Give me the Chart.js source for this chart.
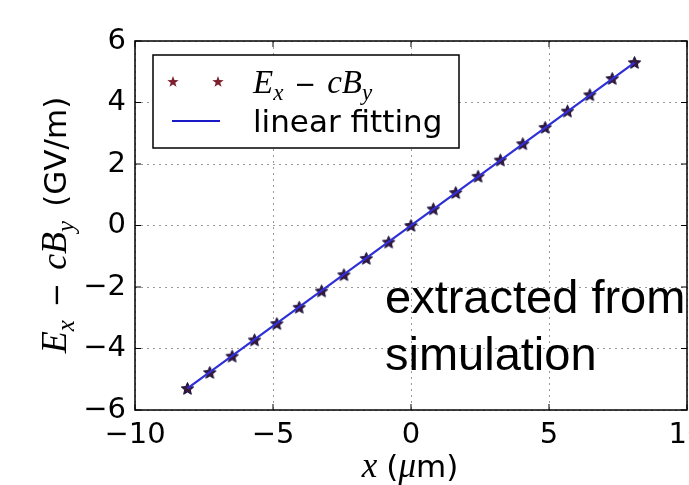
<!DOCTYPE html>
<html>
<head>
<meta charset="utf-8">
<script src="https://cdn.jsdelivr.net/npm/chart.js@4"></script>
<style>
    html, body { margin: 0; padding: 0; background: #fff; }
    #wrap { position: relative; width: 689px; height: 485px; overflow: hidden; }
    #grafica { position: absolute; left: 0; top: 0; }
</style>
</head>
<body>
<div id="wrap"><canvas id="grafica" width="720" height="485"></canvas></div>
<script>
// datos
var posX = [-8.1, -7.29, -6.48, -5.67, -4.86, -4.05, -3.24, -2.43, -1.62, -0.81, 0,
             0.81, 1.62, 2.43, 3.24, 4.05, 4.86, 5.67, 6.48, 7.29, 8.1];
var campo = [-5.3, -4.78, -4.25, -3.72, -3.19, -2.66, -2.13, -1.6, -1.07, -0.54, 0,
             0.54, 1.07, 1.6, 2.13, 2.66, 3.19, 3.72, 4.25, 4.78, 5.3];
var ajusteX = [-8.1, 8.1];
var ajusteY = [-5.3, 5.3];
var ticksX = [-10, -5, 0, 5, 10];
var ticksY = [-6, -4, -2, 0, 2, 4, 6];

var SANS = '"DejaVu Sans", sans-serif';
var SERIF = '"Liberation Serif", "DejaVu Serif", serif';

function estrella(ctx, cx, cy, rOut, rIn) {
    ctx.beginPath();
    for (var i = 0; i < 10; i++) {
        var r = i % 2 === 0 ? rOut : rIn;
        var a = -Math.PI / 2 + i * Math.PI / 5;
        var px = cx + Math.cos(a) * r;
        var py = cy + Math.sin(a) * r;
        if (i === 0) ctx.moveTo(px, py); else ctx.lineTo(px, py);
    }
    ctx.closePath();
}

function imagenEstrella(size, fill, stroke) {
    var c = document.createElement('canvas');
    c.width = size; c.height = size;
    var g = c.getContext('2d');
    estrella(g, size / 2, size / 2 + 0.5, size / 2 - 1, size / 5);
    g.fillStyle = fill;
    g.fill();
    g.strokeStyle = stroke;
    g.lineWidth = 1;
    g.stroke();
    return c;
}

var puntoEstrella = imagenEstrella(15, '#3c1838', '#161040');

function menos(v) { return v < 0 ? '\u2212' + Math.abs(v) : String(v); }

// texto con partes de distinto estilo; gap = espacio extra antes de la parte
function anchoMixto(ctx, partes) {
    var total = 0;
    partes.forEach(function(p) { ctx.font = p.f; total += (p.gap || 0) + ctx.measureText(p.t).width; });
    return total;
}
function textoMixto(ctx, partes, x, y) {
    var cx = x - anchoMixto(ctx, partes) / 2;
    partes.forEach(function(p) {
        cx += p.gap || 0;
        ctx.font = p.f;
        ctx.fillText(p.t, cx, y + (p.dy || 0));
        cx += ctx.measureText(p.t).width;
    });
}

function partesCampo(m, s, gap) {
    return [
        { t: 'E', f: 'italic ' + m + 'px ' + SERIF },
        { t: 'x', f: 'italic ' + s + 'px ' + SERIF, dy: Math.round(s * 0.3) },
        { t: '\u2212', f: Math.round(m * 0.8) + 'px ' + SANS, gap: gap },
        { t: 'cB', f: 'italic ' + m + 'px ' + SERIF, gap: gap },
        { t: 'y', f: 'italic ' + s + 'px ' + SERIF, dy: Math.round(s * 0.3) }
    ];
}

var partesLeyenda = partesCampo(33, 23, 11);
var partesY = partesCampo(36, 25, 13).concat([{ t: '(GV/m)', f: '31px ' + SANS, gap: 14 }]);
var partesX = [
    { t: 'x', f: 'italic 35px ' + SERIF },
    { t: '(', f: '31px ' + SANS, gap: 9 },
    { t: '\u03bc', f: 'italic 35px ' + SERIF },
    { t: 'm)', f: '31px ' + SANS }
];

var decoracion = {
    id: 'decoracion',
    afterDraw: function(chart) {
        var ctx = chart.ctx;
        var a = chart.chartArea;
        var sx = chart.scales.x, sy = chart.scales.y;
        ctx.save();
        // marco
        ctx.strokeStyle = '#000';
        ctx.lineWidth = 1.5;
        ctx.strokeRect(a.left, a.top, a.right - a.left, a.bottom - a.top);
        // marcas hacia dentro
        ctx.lineWidth = 1;
        ticksX.forEach(function(v) {
            var px = sx.getPixelForValue(v);
            ctx.beginPath();
            ctx.moveTo(px, a.bottom); ctx.lineTo(px, a.bottom - 6);
            ctx.moveTo(px, a.top); ctx.lineTo(px, a.top + 6);
            ctx.stroke();
        });
        ticksY.forEach(function(v) {
            var py = sy.getPixelForValue(v);
            ctx.beginPath();
            ctx.moveTo(a.left, py); ctx.lineTo(a.left + 6, py);
            ctx.moveTo(a.right, py); ctx.lineTo(a.right - 6, py);
            ctx.stroke();
        });

        // leyenda
        var lx = 153, ly = 55, lw = 306, lh = 93;
        ctx.fillStyle = '#fff';
        ctx.fillRect(lx, ly, lw, lh);
        ctx.strokeStyle = '#000';
        ctx.lineWidth = 1.5;
        ctx.strokeRect(lx, ly, lw, lh);
        ctx.fillStyle = '#7d1f2e';
        estrella(ctx, 173, 82, 6, 2.4); ctx.fill();
        estrella(ctx, 218, 82, 6, 2.4); ctx.fill();
        ctx.strokeStyle = '#1a1ac8';
        ctx.lineWidth = 2;
        ctx.beginPath(); ctx.moveTo(172, 121); ctx.lineTo(220, 121); ctx.stroke();
        ctx.fillStyle = '#000';
        ctx.textBaseline = 'alphabetic';
        ctx.textAlign = 'left';
        textoMixto(ctx, partesLeyenda, 253 + anchoMixto(ctx, partesLeyenda) / 2, 93);
        ctx.font = '31px ' + SANS;
        ctx.fillText('linear fitting', 253, 132);

        // titulos de ejes
        textoMixto(ctx, partesX, 410, 477);
        ctx.save();
        ctx.translate(66, 225);
        ctx.rotate(-Math.PI / 2);
        textoMixto(ctx, partesY, 0, 0);
        ctx.restore();

        // texto superpuesto
        ctx.font = '47px "Liberation Sans", Arial, sans-serif';
        ctx.fillText('extracted from', 385, 313);
        ctx.fillText('simulation', 385, 370);
        ctx.restore();
    }
};

var puntos = posX.map(function(v, i) { return { x: v, y: campo[i] }; });
var recta = ajusteX.map(function(v, i) { return { x: v, y: ajusteY[i] }; });

new Chart(document.getElementById('grafica').getContext('2d'), {
    type: 'scatter',
    plugins: [decoracion],
    data: {
        datasets: [
            {
                label: 'linear fitting',
                data: recta,
                showLine: true,
                borderColor: '#2f2fd8',
                borderWidth: 2.2,
                pointRadius: 0,
                order: 0
            },
            {
                label: 'Ex - cBy',
                data: puntos,
                pointStyle: puntoEstrella,
                pointRadius: 7,
                order: 1
            }
        ]
    },
    options: {
        responsive: false,
        animation: false,
        devicePixelRatio: 1,
        layout: { padding: { left: 0, top: 41, right: 33, bottom: 0 } },
        plugins: { legend: { display: false }, tooltip: { enabled: false } },
        scales: {
            x: {
                type: 'linear',
                min: -10, max: 10,
                afterFit: function(s) { s.height = 75; },
                afterBuildTicks: function(s) { s.ticks = ticksX.map(function(v) { return { value: v }; }); },
                border: { display: false, dash: [2, 4] },
                grid: { color: '#9a9a9a', lineWidth: 1, drawTicks: false },
                ticks: {
                    padding: 8,
                    color: '#000',
                    font: { family: 'DejaVu Sans', size: 29 },
                    maxRotation: 0,
                    callback: function(v) { return menos(v); }
                }
            },
            y: {
                type: 'linear',
                min: -6, max: 6,
                afterFit: function(s) { s.width = 135; },
                afterBuildTicks: function(s) { s.ticks = ticksY.map(function(v) { return { value: v }; }); },
                border: { display: false, dash: [2, 4] },
                grid: { color: '#9a9a9a', lineWidth: 1, drawTicks: false },
                ticks: {
                    padding: 9,
                    color: '#000',
                    font: { family: 'DejaVu Sans', size: 29 },
                    callback: function(v) { return menos(v); }
                }
            }
        }
    }
});
</script>
</body>
</html>
